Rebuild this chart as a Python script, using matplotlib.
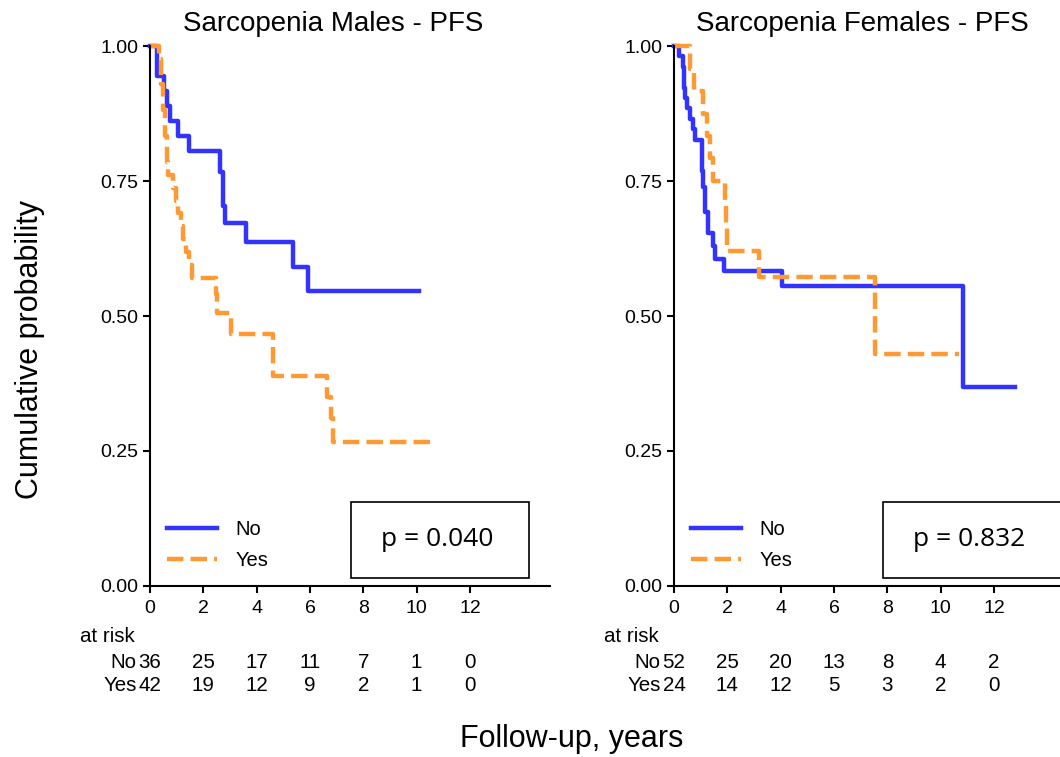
import numpy as np
import matplotlib
matplotlib.use('Agg')
import matplotlib.pyplot as plt
from matplotlib.patches import Rectangle

plt.rcParams['font.family'] = ['Liberation Sans', 'DejaVu Sans']

# Kaplan-Meier step curves (time in years, survival)
male_no_t = [0, 0.26, 0.53, 0.64, 0.75, 1.05, 1.47, 2.63, 2.74, 2.82, 3.61, 5.38, 5.94, 10.1]
male_no_s = [1.0, 0.944, 0.917, 0.889, 0.861, 0.833, 0.806, 0.767, 0.703, 0.672, 0.637, 0.591, 0.546, 0.546]

male_yes_t = [0, 0.35, 0.42, 0.48, 0.55, 0.62, 0.68, 0.85, 0.98, 1.05, 1.15, 1.25, 1.35, 1.45,
              1.58, 2.48, 2.52, 3.05, 4.62, 6.62, 6.80, 6.85, 10.6]
male_yes_s = [1.0, 0.976, 0.929, 0.881, 0.833, 0.786, 0.762, 0.738, 0.714, 0.690, 0.667, 0.643,
              0.619, 0.595, 0.571, 0.540, 0.505, 0.467, 0.389, 0.350, 0.311, 0.267, 0.267]

fem_no_t = [0, 0.19, 0.34, 0.38, 0.42, 0.49, 0.60, 0.72, 0.80, 1.06, 1.10, 1.17, 1.29, 1.48,
            1.55, 1.86, 4.05, 10.83, 12.8]
fem_no_s = [1.0, 0.981, 0.962, 0.923, 0.904, 0.885, 0.865, 0.846, 0.827, 0.769, 0.740, 0.692,
            0.654, 0.629, 0.606, 0.584, 0.555, 0.369, 0.369]

fem_yes_t = [0, 0.60, 0.75, 1.10, 1.25, 1.35, 1.45, 1.90, 1.95, 2.00, 3.20, 7.55, 10.7]
fem_yes_s = [1.0, 0.958, 0.917, 0.875, 0.833, 0.792, 0.750, 0.708, 0.667, 0.620, 0.573, 0.430, 0.430]

# numbers at risk
risk_times = [0, 2, 4, 6, 8, 10, 12]
male_risk_no = [36, 25, 17, 11, 7, 1, 0]
male_risk_yes = [42, 19, 12, 9, 2, 1, 0]
fem_risk_no = [52, 25, 20, 13, 8, 4, 2]
fem_risk_yes = [24, 14, 12, 5, 3, 2, 0]

titles = ['Sarcopenia Males - PFS', 'Sarcopenia Females - PFS']
p_values = ['p = 0.040', 'p = 0.832']
groups = ['No', 'Yes']

BLUE = '#3333FF'
ORANGE = '#FF9933'


def draw_panel(ax, no_t, no_s, yes_t, yes_s, risk_no, risk_yes, title, ptxt, title_x, ptxt_x):
    ax.step(no_t, no_s, where='post', color=BLUE, lw=3.2, clip_on=False, label='No')
    ax.step(yes_t, yes_s, where='post', color=ORANGE, lw=3.2, ls='--', clip_on=False, label='Yes')

    ax.set_xlim(0, 15)
    ax.set_ylim(0, 1.0)
    ax.set_xticks(risk_times)
    ax.set_yticks([0, 0.25, 0.5, 0.75, 1.0])
    ax.set_yticklabels(['0.00', '0.25', '0.50', '0.75', '1.00'])
    ax.tick_params(direction='out', length=5, width=1.5, labelsize=14)
    ax.tick_params(axis='x', pad=5)
    for side in ['top', 'right']:
        ax.spines[side].set_visible(False)
    for side in ['left', 'bottom']:
        ax.spines[side].set_linewidth(1.5)

    ax.text(title_x, 1.042, title, transform=ax.transAxes, ha='center', va='center', fontsize=20)

    ax.legend(loc='lower left', bbox_to_anchor=(0.042, 0.03), frameon=False,
              fontsize=14.5, handlelength=2.5, handletextpad=0.9, labelspacing=0.6,
              borderpad=0, borderaxespad=0)

    # p-value box
    box = Rectangle((ptxt_x - 0.22, 0.015), 0.445, 0.141, transform=ax.transAxes,
                    fill=False, lw=1.2, ec='black', clip_on=False)
    ax.add_patch(box)
    ax.text(ptxt_x - 0.005, 0.0855, ptxt, transform=ax.transAxes, ha='center', va='center',
            fontsize=19, family=['Open Sans', 'DejaVu Sans'])

    # at-risk table
    tr = ax.get_xaxis_transform()
    fs = 14.8
    ax.text(-0.175, -0.094, 'at risk', transform=ax.transAxes, ha='left', va='center', fontsize=fs)
    ax.text(-0.033, -0.141, groups[0], transform=ax.transAxes, ha='right', va='center', fontsize=fs)
    ax.text(-0.033, -0.185, groups[1], transform=ax.transAxes, ha='right', va='center', fontsize=fs)
    for t, a, b in zip(risk_times, risk_no, risk_yes):
        ax.text(t, -0.141, str(a), transform=tr, ha='center', va='center', fontsize=fs)
        ax.text(t, -0.185, str(b), transform=tr, ha='center', va='center', fontsize=fs)


fig = plt.figure(figsize=(10.6, 7.57), dpi=100)
ax1 = fig.add_axes([150 / 1060, 0.226, 400 / 1060, 0.713])
ax2 = fig.add_axes([674 / 1060, 0.226, 400 / 1060, 0.713])

draw_panel(ax1, male_no_t, male_no_s, male_yes_t, male_yes_s, male_risk_no, male_risk_yes,
           titles[0], p_values[0], 0.4575, 0.7225)
draw_panel(ax2, fem_no_t, fem_no_s, fem_yes_t, fem_yes_s, fem_risk_no, fem_risk_yes,
           titles[1], p_values[1], 0.47, 0.7425)

fig.text(0.539, 0.024, 'Follow-up, years', ha='center', va='center', fontsize=22)
fig.text(0.028, 0.538, 'Cumulative probability', ha='center', va='center', rotation=90, fontsize=22)

fig.savefig('out.png', dpi=100)
